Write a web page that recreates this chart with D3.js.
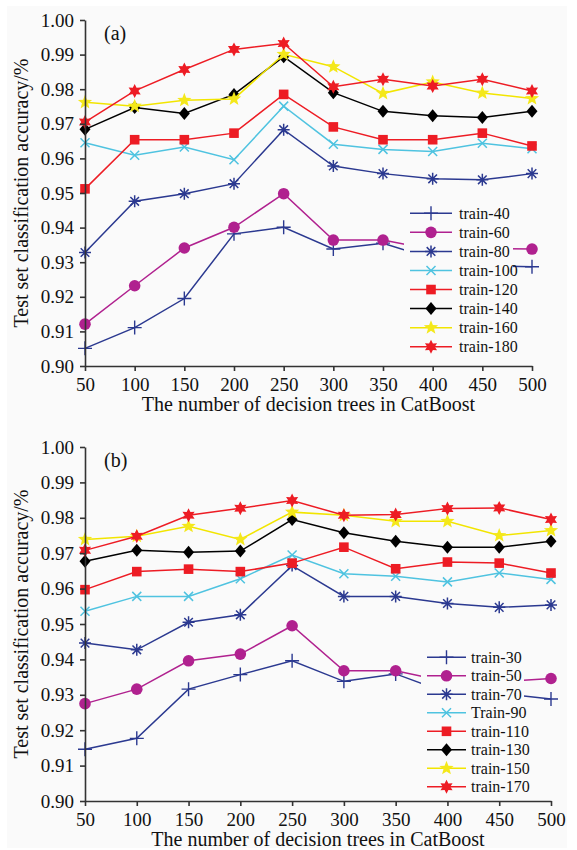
<!DOCTYPE html>
<html>
<head>
<meta charset="utf-8">
<script src="https://cdn.jsdelivr.net/npm/d3@7/dist/d3.min.js"></script>
<style>
  body { margin: 0; background: #fff; }
  svg { display: block; font-family: "Liberation Serif", "Times New Roman", serif; }
</style>
</head>
<body>
<svg width="577" height="850"></svg>
<script>
// shared x categories and y ticks
var trees = [50, 100, 150, 200, 250, 300, 350, 400, 450, 500];
var yTicks = [0.90, 0.91, 0.92, 0.93, 0.94, 0.95, 0.96, 0.97, 0.98, 0.99, 1.00];

// panel (a)
var namesA = ["train-40", "train-60", "train-80", "train-100", "train-120", "train-140", "train-160", "train-180"];
var train40 = [0.9051, 0.9111, 0.9195, 0.9382, 0.9401, 0.9338, 0.9355, 0.9310, 0.9290, 0.9287];
var train60 = [0.9121, 0.9232, 0.9341, 0.9401, 0.9498, 0.9364, 0.9364, 0.9336, 0.9340, 0.9338];
var train80 = [0.9328, 0.9476, 0.9498, 0.9527, 0.9683, 0.9578, 0.9556, 0.9541, 0.9538, 0.9556];
var train100 = [0.9645, 0.9609, 0.9633, 0.9596, 0.9751, 0.9641, 0.9626, 0.9620, 0.9644, 0.9628];
var train120 = [0.9512, 0.9654, 0.9654, 0.9673, 0.9785, 0.9691, 0.9654, 0.9654, 0.9673, 0.9636];
var train140 = [0.9684, 0.9747, 0.9730, 0.9785, 0.9894, 0.9790, 0.9736, 0.9723, 0.9718, 0.9736];
var train160 = [0.9762, 0.9751, 0.9768, 0.9772, 0.9901, 0.9865, 0.9788, 0.9821, 0.9789, 0.9773];
var train180 = [0.9705, 0.9795, 0.9857, 0.9915, 0.9932, 0.9807, 0.9829, 0.9809, 0.9829, 0.9795];

// panel (b)
var namesB = ["train-30", "train-50", "train-70", "Train-90", "train-110", "train-130", "train-150", "train-170"];
var train30 = [0.9146, 0.9177, 0.9316, 0.9357, 0.9396, 0.9338, 0.9359, 0.9305, 0.9304, 0.9288];
var train50 = [0.9275, 0.9316, 0.9396, 0.9415, 0.9495, 0.9368, 0.9368, 0.9337, 0.9337, 0.9346];
var train70 = [0.9446, 0.9427, 0.9505, 0.9526, 0.9665, 0.9578, 0.9578, 0.9558, 0.9547, 0.9554];
var train90 = [0.9536, 0.9578, 0.9578, 0.9628, 0.9695, 0.9642, 0.9635, 0.9619, 0.9644, 0.9626];
var train110 = [0.9597, 0.9648, 0.9655, 0.9648, 0.9672, 0.9717, 0.9656, 0.9675, 0.9672, 0.9644];
var train130 = [0.9677, 0.9708, 0.9703, 0.9706, 0.9795, 0.9758, 0.9734, 0.9717, 0.9717, 0.9734];
var train150 = [0.9739, 0.9748, 0.9776, 0.9739, 0.9816, 0.9807, 0.9790, 0.9790, 0.9750, 0.9764];
var train170 = [0.9708, 0.9748, 0.9807, 0.9827, 0.9849, 0.9807, 0.9809, 0.9826, 0.9828, 0.9795];

// style per series slot (same in both panels)
var styles = [
  { color: "#2b3990", marker: "plus" },
  { color: "#b0218f", marker: "circle" },
  { color: "#2b3990", marker: "asterisk" },
  { color: "#4fc3e0", marker: "cross" },
  { color: "#ed1c24", marker: "square" },
  { color: "#000000", marker: "diamond" },
  { color: "#f4e81a", marker: "star5", line: "#f2e500" },
  { color: "#ed1c24", marker: "star6" }
];

var svg = d3.select("svg");
svg.append("rect").attr("x", 7).attr("y", 6).attr("width", 560).attr("height", 842).attr("fill", "#fafafa");

function starPath(n, ro, ri) {
  var pts = [];
  for (var i = 0; i < n * 2; i++) {
    var r = i % 2 === 0 ? ro : ri;
    var a = -Math.PI / 2 + i * Math.PI / n;
    pts.push([r * Math.cos(a), r * Math.sin(a)]);
  }
  return "M" + pts.map(function (p) { return p[0].toFixed(2) + "," + p[1].toFixed(2); }).join("L") + "Z";
}

function drawMarker(g, type, color) {
  if (type === "plus") {
    g.append("path").attr("d", "M-7,0H7M0,-7V7").attr("stroke", color).attr("stroke-width", 1.4).attr("fill", "none");
  } else if (type === "circle") {
    g.append("circle").attr("r", 5.8).attr("fill", color);
  } else if (type === "asterisk") {
    g.append("path").attr("d", "M-6,0H6M0,-6V6M-4.3,-4.3L4.3,4.3M-4.3,4.3L4.3,-4.3")
      .attr("stroke", color).attr("stroke-width", 1.5).attr("fill", "none");
  } else if (type === "cross") {
    g.append("path").attr("d", "M-4.5,-4.5L4.5,4.5M-4.5,4.5L4.5,-4.5").attr("stroke", color).attr("stroke-width", 1.5).attr("fill", "none");
  } else if (type === "square") {
    g.append("rect").attr("x", -4.8).attr("y", -4.8).attr("width", 9.6).attr("height", 9.6).attr("fill", color);
  } else if (type === "diamond") {
    g.append("path").attr("d", "M0,-6.5L5.5,0L0,6.5L-5.5,0Z").attr("fill", color);
  } else if (type === "star5") {
    g.append("path").attr("d", starPath(5, 7.5, 3.2)).attr("fill", color);
  } else if (type === "star6") {
    g.append("path").attr("d", starPath(6, 7, 3.8)).attr("fill", color);
  }
}

function drawPanel(p) {
  var x = d3.scaleLinear().domain([50, 500]).range([p.left, p.right]);
  var y = d3.scaleLinear().domain([0.90, 1.00]).range([p.bottom, p.top]);

  // series lines and markers
  p.series.forEach(function (vals, i) {
    var st = styles[i];
    var pts = trees.map(function (t, j) { return [t, vals[j]]; });
    svg.append("path")
      .datum(pts)
      .attr("fill", "none")
      .attr("stroke", st.line || st.color)
      .attr("stroke-width", 1.5)
      .attr("d", d3.line().x(function (d) { return x(d[0]); }).y(function (d) { return y(d[1]); }));
    pts.forEach(function (d) {
      var g = svg.append("g").attr("transform", "translate(" + x(d[0]) + "," + y(d[1]) + ")");
      drawMarker(g, st.marker, st.color);
    });
  });

  // legend with background that covers the lines
  svg.append("rect")
    .attr("x", p.legend.x0).attr("y", p.legend.y0)
    .attr("width", p.legend.w).attr("height", p.legend.h)
    .attr("fill", "#fafafa");
  p.names.forEach(function (name, i) {
    var st = styles[i];
    var cy = p.legend.rowY + i * p.legend.step;
    svg.append("line")
      .attr("x1", p.legend.lx1).attr("x2", p.legend.lx2)
      .attr("y1", cy).attr("y2", cy)
      .attr("stroke", st.line || st.color).attr("stroke-width", 1.5);
    var g = svg.append("g").attr("transform", "translate(" + (p.legend.lx1 + p.legend.lx2) / 2 + "," + cy + ")");
    drawMarker(g, st.marker, st.color);
    svg.append("text")
      .attr("x", p.legend.tx).attr("y", cy + 5.5)
      .attr("font-size", "16px").attr("fill", "#111")
      .text(name);
  });

  // axes
  var ax = svg.append("g")
    .attr("transform", "translate(0," + p.bottom + ")")
    .call(d3.axisBottom(x).tickValues(trees).tickSize(5).tickSizeOuter(0).tickFormat(d3.format("d")));
  ax.selectAll("text").attr("font-size", "19px").attr("font-family", "Liberation Serif").attr("fill", "#111").attr("y", 25).attr("dy", 0);

  var ay = svg.append("g")
    .attr("transform", "translate(" + p.left + ",0)")
    .call(d3.axisLeft(y).tickValues(yTicks).tickSize(5).tickSizeOuter(0).tickFormat(d3.format(".2f")));
  ay.selectAll("text").attr("font-size", "19px").attr("font-family", "Liberation Serif").attr("fill", "#111").attr("x", -11);

  svg.selectAll(".domain, .tick line").attr("stroke", "#333").attr("stroke-width", 1.6);

  // titles
  svg.append("text")
    .attr("x", (p.left + p.right) / 2).attr("y", p.bottom + 45)
    .attr("text-anchor", "middle").attr("font-size", "20px").attr("fill", "#111")
    .text("The number of decision trees in CatBoost");
  svg.append("text")
    .attr("transform", "translate(28," + (p.top + p.bottom) / 2 + ") rotate(-90)")
    .attr("text-anchor", "middle").attr("font-size", "20px").attr("fill", "#111")
    .text("Test set classification accuracy/%");
  svg.append("text")
    .attr("x", 104).attr("y", p.top + 20)
    .attr("font-size", "20px").attr("fill", "#111")
    .text(p.tag);
}

drawPanel({
  tag: "(a)", left: 85, right: 532, top: 20, bottom: 366,
  names: namesA,
  series: [train40, train60, train80, train100, train120, train140, train160, train180],
  legend: { x0: 404, y0: 201, w: 109, h: 157, lx1: 410, lx2: 452, tx: 459, rowY: 213.3, step: 19.06 }
});

drawPanel({
  tag: "(b)", left: 85, right: 551, top: 447, bottom: 801,
  names: namesB,
  series: [train30, train50, train70, train90, train110, train130, train150, train170],
  legend: { x0: 421, y0: 646, w: 103, h: 151, lx1: 427, lx2: 466, tx: 471, rowY: 657.3, step: 18.5 }
});
</script>
</body>
</html>
